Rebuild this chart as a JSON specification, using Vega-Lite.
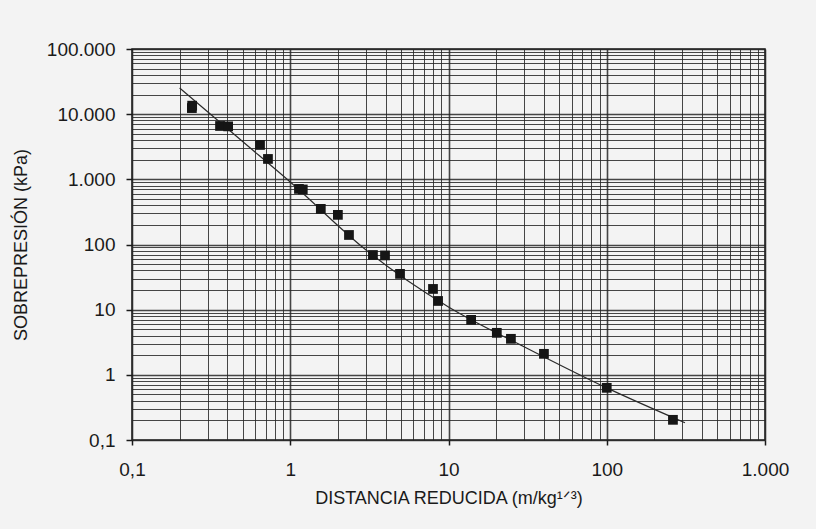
{
  "$schema": "https://vega.github.io/schema/vega-lite/v6.json",
  "width": 633,
  "height": 391,
  "autosize": {"type": "none"},
  "padding": {"left": 132, "top": 49, "right": 51, "bottom": 89},
  "background": "#f3f3f3",
  "config": {
    "view": {"stroke": "#1a1a1a", "strokeWidth": 1.5},
    "font": "Liberation Sans"
  },
  "datasets": {
    "points": [
      {"z": 0.239, "p": 12400},
      {"z": 0.24, "p": 13500},
      {"z": 0.36, "p": 6590},
      {"z": 0.405, "p": 6500},
      {"z": 0.644, "p": 3370},
      {"z": 0.723, "p": 2055},
      {"z": 1.135, "p": 713},
      {"z": 1.2, "p": 700},
      {"z": 1.56, "p": 352},
      {"z": 2.0, "p": 285},
      {"z": 2.35, "p": 140},
      {"z": 3.33, "p": 69},
      {"z": 3.97, "p": 68},
      {"z": 4.94, "p": 35.4},
      {"z": 7.98, "p": 20.8},
      {"z": 8.59, "p": 13.6},
      {"z": 13.9, "p": 6.98},
      {"z": 20.2, "p": 4.41},
      {"z": 24.8, "p": 3.57},
      {"z": 40.1, "p": 2.1},
      {"z": 100, "p": 0.632},
      {"z": 262, "p": 0.204}
    ],
    "curve": [
      {"z": 0.2, "p": 25200},
      {"z": 0.5, "p": 3800},
      {"z": 1, "p": 910},
      {"z": 3, "p": 83},
      {"z": 10, "p": 11},
      {"z": 30, "p": 2.7},
      {"z": 100, "p": 0.63},
      {"z": 312, "p": 0.184}
    ]
  },
  "layer": [
    {
      "data": {"name": "curve"},
      "mark": {"type": "line", "color": "#2a2a2a", "strokeWidth": 1.2, "interpolate": "monotone"},
      "encoding": {
        "x": {"field": "z", "type": "quantitative"},
        "y": {"field": "p", "type": "quantitative"}
      }
    },
    {
      "data": {"name": "points"},
      "mark": {"type": "square", "filled": true, "color": "#151515", "size": 95, "opacity": 1},
      "encoding": {
        "x": {
          "field": "z",
          "type": "quantitative",
          "scale": {"type": "log", "domain": [0.1, 1000], "nice": false},
          "axis": {
            "title": "DISTANCIA REDUCIDA (m/kg¹ᐟ³)",
            "values": [0.1,0.2,0.3,0.4,0.5,0.6,0.7,0.8,0.9,1,2,3,4,5,6,7,8,9,10,20,30,40,50,60,70,80,90,100,200,300,400,500,600,700,800,900,1000],
            "labelExpr": "datum.value==1000?'1.000':datum.value==100?'100':datum.value==10?'10':datum.value==1?'1':datum.value==0.1?'0,1':''",
            "grid": true,
            "gridColor": "#262626",
            "gridWidth": {"condition": {"test": "abs(log(datum.value)/LN10 - round(log(datum.value)/LN10)) < 0.001", "value": 1.6}, "value": 1},
            "gridOpacity": 0.85,
            "domain": false,
            "ticks": true,
            "tickSize": 5,
            "tickColor": "#1a1a1a",
            "tickWidth": 1.5,
            "tickOpacity": {"condition": {"test": "abs(log(datum.value)/LN10 - round(log(datum.value)/LN10)) < 0.001", "value": 1}, "value": 0},
            "labelFontSize": 19,
            "labelColor": "#1a1a1a",
            "labelPadding": 15,
            "labelOverlap": false,
            "labelFlush": false,
            "titleFontSize": 18,
            "titleFontWeight": "normal",
            "titleColor": "#1a1a1a",
            "titlePadding": 10
          }
        },
        "y": {
          "field": "p",
          "type": "quantitative",
          "scale": {"type": "log", "domain": [0.1, 100000], "nice": false},
          "axis": {
            "title": "SOBREPRESIÓN (kPa)",
            "values": [0.1,0.2,0.3,0.4,0.5,0.6,0.7,0.8,0.9,1,2,3,4,5,6,7,8,9,10,20,30,40,50,60,70,80,90,100,200,300,400,500,600,700,800,900,1000,2000,3000,4000,5000,6000,7000,8000,9000,10000,20000,30000,40000,50000,60000,70000,80000,90000,100000],
            "labelExpr": "datum.value==100000?'100.000':datum.value==10000?'10.000':datum.value==1000?'1.000':datum.value==100?'100':datum.value==10?'10':datum.value==1?'1':datum.value==0.1?'0,1':''",
            "grid": true,
            "gridColor": "#262626",
            "gridWidth": {"condition": {"test": "abs(log(datum.value)/LN10 - round(log(datum.value)/LN10)) < 0.001", "value": 1.6}, "value": 1},
            "gridOpacity": 0.85,
            "domain": false,
            "ticks": true,
            "tickSize": 6,
            "tickColor": "#1a1a1a",
            "tickWidth": 1.5,
            "tickOpacity": {"condition": {"test": "abs(log(datum.value)/LN10 - round(log(datum.value)/LN10)) < 0.001", "value": 1}, "value": 0},
            "labelFontSize": 19,
            "labelColor": "#1a1a1a",
            "labelPadding": 11,
            "labelOverlap": false,
            "labelFlush": false,
            "titleFontSize": 18,
            "titleFontWeight": "normal",
            "titleColor": "#1a1a1a",
            "titlePadding": 16
          }
        }
      }
    }
  ]
}
